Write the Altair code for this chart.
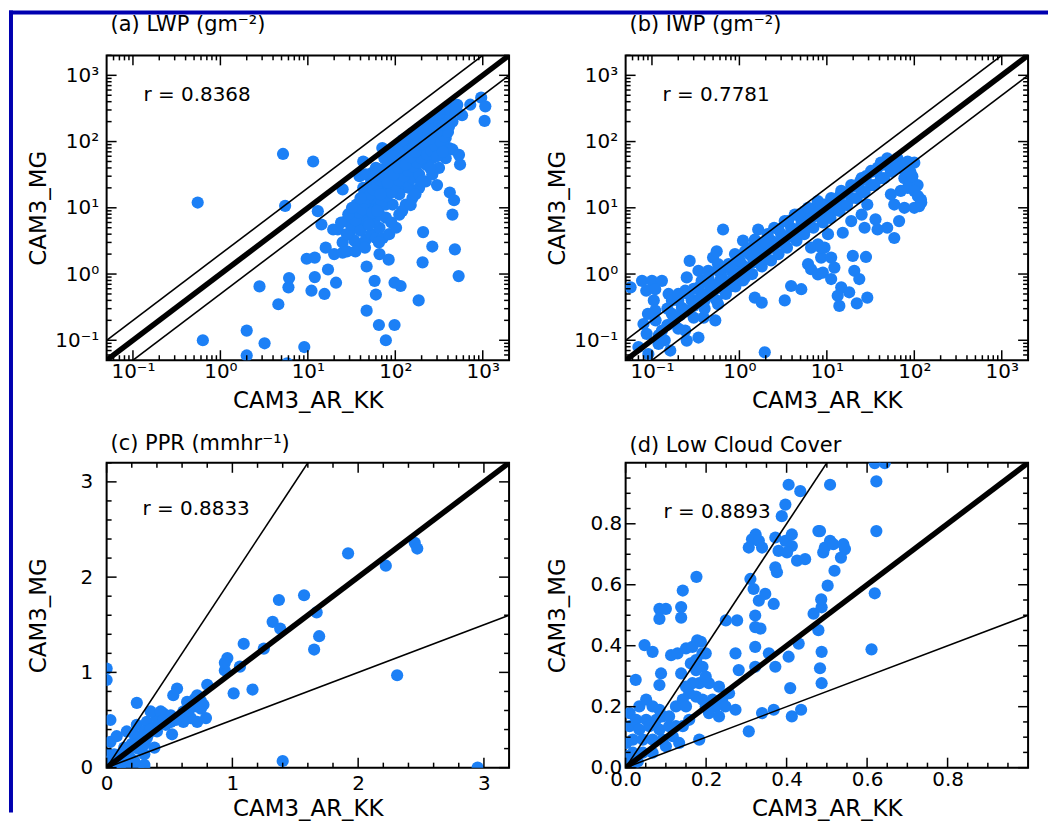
import altair as alt
import pandas as pd

FONT = "DejaVu Sans"
PT = "#1c80f6"
BG = "#0000b0"
W, H = 404, 306

# ---------------- data ----------------
# (a) LWP
lwp_x = [0.55, 0.63, 5.2, 5.5, 2.0, 2.0, 3.2, 2.8, 6.0, 6.1,
         4.6, 9.1, 9.7, 11, 5.8, 11.5, 12, 13, 14.3, 12,
         15.5, 17, 21, 16, 20, 25, 19.5, 25, 43, 39,
         47, 47, 58, 60, 66, 65, 78, 84, 98, 98,
         115, 185, 205, 208, 265, 300, 420, 470, 450, 480,
         530, 550, 535, 450, 580, 720, 960, 1070, 1050, 71,
         55, 22, 27.5, 33, 37, 41, 44, 49, 53, 60,
         69, 78, 89, 102, 116, 132, 151, 172, 196, 223,
         254, 290, 330, 377, 430, 468, 511, 394, 30, 34,
         39, 46, 53, 60, 72, 85, 102, 111, 132, 157,
         187, 223, 265, 316, 377, 265, 223, 187, 144, 121,
         93, 78, 66, 58, 51, 43, 37, 33, 72, 85,
         102, 121, 144, 172, 205, 243, 290, 345, 411, 377,
         316, 265, 172, 144, 111, 89, 75, 63, 55, 49,
         66, 78, 60, 75, 93, 111, 132, 157, 187, 223,
         265, 316, 46, 53, 85, 121, 43, 39, 36, 60,
         111, 132, 157, 187, 223, 265, 316, 377, 450, 411,
         345, 25, 28, 31, 35, 38, 42, 45, 48, 52,
         56, 62, 68, 74, 80, 88, 95, 105, 115, 125,
         140, 160, 180, 200, 240, 280, 320, 360, 400, 440,
         500, 40, 50, 55, 65, 70, 80, 90, 100, 110,
         125, 140, 160, 180, 200, 230, 260, 290, 330, 360,
         400, 62, 68, 82, 96, 108, 130, 150, 170, 195,
         215, 250, 300, 350, 420, 28, 35, 45, 65, 90,
         120, 150, 170, 200, 250, 300, 350, 24, 29, 32,
         40, 57, 66, 110, 95]
lwp_y = [12, 0.1, 65, 10.7, 0.14, 0.059, 0.09, 0.65, 0.63, 0.87,
         0.35, 0.079, 1.7, 0.56, 0.045, 50, 1.77, 8.9, 5.6, 0.9,
         0.5, 1.17, 0.74, 2.5, 2.0, 2.1, 4.7, 19, 50, 30,
         1.3, 0.28, 0.79, 0.49, 2.0, 0.17, 0.1, 1.65, 0.17, 0.74,
         0.66, 0.4, 1.5, 4.3, 2.6, 22, 17, 13, 7.9, 2.36,
         0.93, 45, 63, 76, 250, 360, 460, 340, 205, 80,
         34, 4.7, 6.3, 7.9, 10, 13.3, 16, 20, 25, 28,
         34, 40, 48, 56, 67, 80, 90, 107, 124, 142,
         163, 190, 220, 253, 291, 327, 358, 319, 4.0, 3.2,
         2.7, 3.3, 4.0, 3.5, 3.5, 4.0, 5.0, 7.9, 11.2, 14,
         20, 25, 32, 40, 56, 56, 80, 50, 32, 20,
         11.2, 7.1, 5.0, 6.3, 7.9, 6.3, 5.0, 5.0, 14, 20,
         28, 40, 50, 63, 80, 101, 124, 151, 169, 113,
         80, 142, 36, 20, 16, 25, 22, 18, 11.2, 11.2,
         7.9, 11.2, 40, 56, 75, 90, 113, 134, 160, 190,
         225, 270, 32, 18, 70, 105, 20, 7.9, 11.2, 13.3,
         36, 25, 28, 32, 45, 80, 124, 160, 200, 80,
         90, 3.0, 4.0, 5.5, 6.5, 8.5, 9.5, 12, 14, 16,
         19, 22, 26, 30, 34, 38, 44, 50, 58, 64,
         72, 80, 95, 110, 130, 160, 180, 210, 230, 270,
         300, 4.5, 5.5, 8.5, 10, 12, 15, 17, 22, 26,
         30, 36, 42, 48, 56, 64, 72, 85, 100, 120,
         140, 9, 16, 24, 32, 40, 45, 58, 70, 90,
         100, 110, 140, 180, 220, 2.2, 2.2, 2.5, 3.0, 6,
         9, 11, 16, 25, 40, 60, 70, 6, 8, 10,
         14, 30, 38, 70, 60]

# (b) IWP
iwp_x = [0.057, 0.077, 0.1, 0.13, 0.086, 0.109, 0.105, 0.109, 0.080, 0.087,
         0.070, 0.091, 0.119, 0.13, 0.162, 0.24, 0.25, 0.34, 1.95, 0.155,
         0.169, 0.25, 0.27, 0.34, 0.37, 0.24, 0.44, 0.50, 0.55, 0.57,
         0.68, 0.31, 0.42, 0.57, 0.39, 0.53, 0.65, 1.1, 1.5, 1.64,
         1.16, 0.89, 1.38, 1.95, 2.5, 3.3, 4.3, 5.6, 7.2, 9.4,
         1.5, 1.8, 3.3, 3.9, 5.1, 6.1, 6.6, 7.9, 8.6, 9.4,
         7.9, 6.6, 0.89, 0.75, 1.16, 0.169, 0.22, 0.285, 0.37, 0.48,
         0.63, 0.81, 1.06, 1.38, 1.8, 2.3, 3.0, 3.9, 5.1, 6.6,
         8.6, 0.20, 0.26, 0.34, 0.44, 0.57, 0.75, 0.97, 1.26, 1.64,
         2.1, 2.8, 3.6, 4.7, 6.1, 7.9, 0.24, 0.40, 0.68, 1.16,
         1.95, 3.3, 5.6, 9.4, 8.6, 11.2, 14.6, 19, 25, 32,
         41.5, 49, 64, 84, 100, 70, 54, 41.5, 32, 25,
         19, 14.6, 11.2, 8.6, 77, 91, 109, 119, 114, 100,
         77, 59, 54, 70, 84, 29, 25, 19, 15.2, 10.3,
         8.6, 11.2, 9.0, 12.2, 11.2, 19.8, 28, 20.6, 23.5, 14.6,
         18, 13.3, 13.9, 22, 29, 38, 49, 59, 67, 36,
         27, 0.12, 0.15, 0.18, 0.21, 0.25, 0.3, 0.35, 0.42, 0.5,
         0.6, 0.7, 0.85, 1.0, 1.2, 1.45, 1.7, 2.0, 2.4, 2.9,
         3.5, 4.2, 5.0, 6.0, 7.2, 8.5, 10, 12, 14, 17,
         20, 24, 28, 33, 38, 45, 55, 0.14, 0.2, 0.3,
         0.4, 0.55, 0.7, 0.9, 1.1, 1.4, 1.8, 2.3, 2.8, 3.5,
         4.5, 5.5, 7.0, 9, 11, 14, 17, 22, 27, 35,
         45, 55, 65, 80, 90, 95, 100, 110, 120, 0.09,
         0.11, 0.15, 0.2, 0.3, 0.45, 0.6, 0.8, 1.0, 1.3, 1.6,
         2.0]
iwp_y = [0.63, 0.79, 0.79, 0.79, 0.56, 0.59, 0.40, 0.28, 0.176, 0.125,
         0.079, 0.062, 0.088, 0.14, 0.070, 0.14, 0.099, 0.11, 0.066, 0.50,
         0.40, 0.89, 1.58, 1.12, 0.79, 0.56, 1.12, 1.77, 2.2, 1.41,
         1.25, 0.40, 0.50, 0.35, 0.22, 0.20, 4.7, 3.2, 3.3, 4.7,
         2.2, 2.0, 2.5, 2.8, 5.0, 6.3, 7.9, 8.9, 10, 11.2,
         0.44, 0.37, 0.40, 0.66, 0.59, 1.41, 1.18, 0.99, 1.77, 2.5,
         2.8, 2.5, 0.79, 0.63, 0.89, 0.25, 0.31, 0.40, 0.50, 0.70,
         0.89, 1.12, 1.41, 1.88, 2.5, 3.2, 4.0, 5.0, 6.7, 8.4,
         10.6, 0.40, 0.50, 0.63, 0.89, 1.12, 1.41, 1.77, 2.4, 3.0,
         4.0, 4.7, 6.3, 7.9, 10, 12.6, 0.28, 0.40, 0.63, 1.12,
         1.77, 2.8, 4.7, 7.1, 11.2, 14, 18, 22, 28, 36,
         48, 56, 56, 50, 48, 40, 36, 28, 22, 18,
         14, 11.2, 8.9, 7.1, 28, 25, 22, 13.3, 10.6, 10,
         10, 11.2, 16, 18, 20, 11.2, 7.9, 6.3, 4.2, 4.0,
         2.5, 1.77, 1.05, 1.25, 0.84, 1.88, 1.81, 1.12, 0.84, 0.63,
         0.53, 0.47, 0.33, 0.36, 0.44, 4.7, 5.0, 3.5, 6.3, 6.7,
         5.0, 0.12, 0.17, 0.2, 0.24, 0.28, 0.33, 0.4, 0.45, 0.55,
         0.62, 0.75, 0.9, 1.05, 1.25, 1.5, 1.8, 2.1, 2.5, 3.0,
         3.6, 4.3, 5.2, 6.2, 7.5, 9, 10.5, 12.5, 15, 17,
         21, 25, 30, 35, 40, 45, 50, 0.1, 0.15, 0.22,
         0.3, 0.4, 0.5, 0.65, 0.8, 1.0, 1.3, 1.6, 2.0, 2.5,
         3.2, 4.0, 5.0, 6.0, 7.0, 9, 11, 14, 17, 22,
         28, 35, 40, 45, 35, 30, 18, 15, 12, 0.25,
         0.2, 0.3, 0.5, 0.6, 0.7, 0.8, 1.3, 1.6, 2.0, 2.3,
         3.0]

# (c) PPR
ppr_x = [0.0, 0.0, 0.03, 0.03, 0.01, 0.24, 0.08, 0.16, 0.24, 0.32,
         0.40, 0.45, 0.53, 0.56, 0.64, 0.69, 0.75, 0.77, 0.80, 0.72,
         0.61, 0.67, 0.72, 0.79, 0.61, 0.56, 0.51, 0.47, 0.52, 0.38,
         0.30, 0.22, 0.30, 0.11, 0.19, 0.27, 0.32, 0.22, 0.14, 0.06,
         0.22, 0.30, 0.38, 0.35, 0.43, 0.51, 0.94, 0.96, 1.01, 1.09,
         1.16, 1.25, 1.32, 1.37, 1.38, 1.57, 1.40, 1.06, 0.94, 1.67,
         1.69, 1.65, 1.92, 2.22, 2.45, 2.47, 2.31, 2.95, 0.05, 0.10,
         0.12, 0.15, 0.18, 0.20, 0.25, 0.28, 0.30, 0.33, 0.35, 0.40,
         0.42, 0.45, 0.50, 0.55, 0.60, 0.65, 0.70, 0.75, 0.02, 0.04,
         0.08, 0.0, 0.05, 0.15, 0.25, 0.30]
ppr_y = [1.04, 0.92, 0.50, 0.27, 0.14, 0.68, 0.33, 0.38, 0.45, 0.48,
         0.52, 0.57, 0.76, 0.83, 0.69, 0.64, 0.62, 0.66, 0.87, 0.76,
         0.59, 0.52, 0.48, 0.52, 0.48, 0.52, 0.48, 0.45, 0.35, 0.21,
         0.14, 0.07, 0.03, 0.03, 0.10, 0.27, 0.31, 0.24, 0.21, 0.14,
         0.35, 0.38, 0.42, 0.59, 0.59, 0.55, 1.02, 1.15, 0.78, 1.30,
         0.82, 1.25, 1.53, 1.76, 1.46, 1.81, 0.07, 1.06, 1.10, 1.63,
         1.38, 1.24, 2.25, 2.12, 2.36, 2.30, 0.97, 0.0, 0.05, 0.10,
         0.15, 0.12, 0.20, 0.25, 0.20, 0.30, 0.25, 0.35, 0.40, 0.38,
         0.45, 0.50, 0.48, 0.50, 0.55, 0.60, 0.72, 0.70, 0.02, 0.08,
         0.05, 0.06, 0.0, 0.0, 0.0, 0.0]

# (d) Low cloud cover
lcc_x = [0.405, 0.434, 0.397, 0.388, 0.323, 0.314, 0.306, 0.331, 0.339, 0.372,
         0.397, 0.413, 0.413, 0.380, 0.401, 0.426, 0.446, 0.479, 0.491, 0.372,
         0.376, 0.310, 0.318, 0.331, 0.347, 0.368, 0.322, 0.322, 0.335, 0.322,
         0.273, 0.281, 0.322, 0.356, 0.372, 0.405, 0.430, 0.467, 0.487, 0.479,
         0.487, 0.483, 0.487, 0.409, 0.368, 0.413, 0.339, 0.436, 0.306, 0.249,
         0.277, 0.176, 0.142, 0.138, 0.138, 0.084, 0.100, 0.084, 0.047, 0.067,
         0.113, 0.129, 0.150, 0.166, 0.178, 0.187, 0.199, 0.088, 0.084, 0.025,
         0.138, 0.162, 0.175, 0.191, 0.183, 0.207, 0.232, 0.257, 0.273, 0.175,
         0.158, 0.142, 0.125, 0.150, 0.191, 0.216, 0.183, 0.010, 0.034, 0.051,
         0.067, 0.084, 0.026, 0.051, 0.076, 0.092, 0.108, 0.010, 0.034, 0.059,
         0.084, 0.108, 0.125, 0.018, 0.043, 0.067, 0.092, 0.018, 0.043, 0.006,
         0.117, 0.142, 0.158, 0.002, 0.067, 0.100, 0.133, 0.199, 0.224, 0.240,
         0.248, 0.207, 0.232, 0.166, 0.150, 0.199, 0.175, 0.191, 0.619, 0.644,
         0.623, 0.508, 0.623, 0.483, 0.508, 0.495, 0.516, 0.541, 0.545, 0.535,
         0.519, 0.502, 0.486, 0.619, 0.611, 0.010, 0.030]
lcc_y = [0.928, 0.907, 0.863, 0.825, 0.765, 0.749, 0.722, 0.744, 0.722, 0.755,
         0.744, 0.765, 0.727, 0.711, 0.706, 0.679, 0.684, 0.776, 0.706, 0.657,
         0.641, 0.619, 0.586, 0.548, 0.570, 0.537, 0.499, 0.461, 0.456, 0.396,
         0.375, 0.320, 0.331, 0.375, 0.331, 0.364, 0.407, 0.505, 0.526, 0.451,
         0.380, 0.326, 0.277, 0.261, 0.190, 0.168, 0.179, 0.190, 0.119, 0.483,
         0.483, 0.626, 0.581, 0.527, 0.492, 0.521, 0.521, 0.488, 0.402, 0.380,
         0.369, 0.375, 0.391, 0.396, 0.418, 0.413, 0.375, 0.309, 0.271, 0.288,
         0.309, 0.342, 0.320, 0.331, 0.277, 0.277, 0.266, 0.244, 0.190, 0.233,
         0.244, 0.223, 0.201, 0.201, 0.223, 0.223, 0.092, 0.179, 0.201, 0.223,
         0.201, 0.190, 0.157, 0.157, 0.157, 0.168, 0.168, 0.136, 0.125, 0.136,
         0.125, 0.136, 0.136, 0.092, 0.092, 0.092, 0.092, 0.049, 0.049, 0.038,
         0.103, 0.136, 0.157, 0.081, 0.049, 0.070, 0.081, 0.201, 0.201, 0.223,
         0.201, 0.179, 0.168, 0.277, 0.266, 0.299, 0.353, 0.375, 0.999, 0.999,
         0.939, 0.928, 0.776, 0.776, 0.744, 0.722, 0.733, 0.733, 0.717, 0.689,
         0.646, 0.597, 0.552, 0.572, 0.388, 0.010, 0.020]

# reference lines (1:1, 2:1, 1:2)
log_line_x = [0.05, 2000]
log_line_one = [0.05, 2000]
log_line_two = [0.1, 4000]
log_line_half = [0.025, 1000]
ppr_line_x = [0, 3.2]
ppr_line_one = [0, 3.2]
ppr_line_two = [0, 6.4]
ppr_line_half = [0, 1.6]
lcc_line_x = [0, 1]
lcc_line_one = [0, 1]
lcc_line_two = [0, 2]
lcc_line_half = [0, 0.5]

# tick values
log_major = [0.1, 1, 10, 100, 1000]
log_minor = [0.06, 0.07, 0.08, 0.09,
             0.2, 0.3, 0.4, 0.5, 0.6, 0.7, 0.8, 0.9,
             2, 3, 4, 5, 6, 7, 8, 9,
             20, 30, 40, 50, 60, 70, 80, 90,
             200, 300, 400, 500, 600, 700, 800, 900, 2000]
ppr_major = [0, 1, 2, 3]
ppr_minor = [0.2, 0.4, 0.6, 0.8, 1.2, 1.4, 1.6, 1.8, 2.2, 2.4, 2.6, 2.8, 3.2]
lcc_major = [0.0, 0.2, 0.4, 0.6, 0.8]
lcc_minor = [0.05, 0.1, 0.15, 0.25, 0.3, 0.35, 0.45, 0.5, 0.55, 0.65, 0.7,
             0.75, 0.85, 0.9, 0.95]

titles = ["(a) LWP (gm\u207b\u00b2)", "(b) IWP (gm\u207b\u00b2)",
          "(c) PPR (mmhr\u207b\u00b9)", "(d) Low Cloud Cover"]
r_texts = ["r = 0.8368", "r = 0.7781", "r = 0.8833", "r = 0.8893"]
r_x = [0.132, 0.132, 0.286, 0.094]
r_y = [509, 509, 2.72, 0.837]

LOG_LABELS = ("datum.value < 0.5 ? '10\u207b\u00b9' : datum.value < 5 ? '10\u2070' : "
              "datum.value < 50 ? '10\u00b9' : datum.value < 500 ? '10\u00b2' : '10\u00b3'")


def make_panel(px, py, title, title_y, scale, major, minor, lx, l1, l2, lh,
               rtext, rx, ry, label_size, xpad, ypad, xtitle_y,
               fmt=None, label_expr=None, strips=False):
    common = dict(grid=False, domain=False, ticks=False, tickSize=0,
                  labelFont=FONT, labelFontSize=label_size, labelColor="black",
                  titleFont=FONT, titleFontSize=23, titleFontWeight="normal",
                  titleColor="black", labelFlush=False, labelOverlap=False,
                  values=major)
    if fmt:
        common["format"] = fmt
    if label_expr:
        common["labelExpr"] = label_expr
    xaxis = alt.Axis(title="CAM3_AR_KK", labelPadding=xpad, titleY=xtitle_y,
                     titleBaseline="alphabetic", **common)
    yaxis = alt.Axis(title="CAM3_MG", labelPadding=ypad, titleX=-68, titleY=H / 2,
                     titleAngle=270, titleAlign="center", titleBaseline="middle",
                     **common)

    def X(f):
        return alt.X(f, type="quantitative", scale=scale, axis=xaxis)

    def Y(f):
        return alt.Y(f, type="quantitative", scale=scale, axis=yaxis)

    pts = alt.Chart(pd.DataFrame({"x": px, "y": py})).mark_circle(
        size=150, opacity=1, color=PT, clip=True).encode(x=X("x"), y=Y("y"))

    ldf = pd.DataFrame({
        "x": lx + lx + lx,
        "y": l1 + l2 + lh,
        "k": ["one"] * len(lx) + ["two"] * len(lx) + ["half"] * len(lx),
    })
    thin = alt.Chart(ldf).transform_filter("datum.k != 'one'").mark_line(
        clip=True, color="black", strokeWidth=1.6).encode(
        x=X("x"), y=Y("y"), detail="k:N")
    thick = alt.Chart(ldf).transform_filter("datum.k == 'one'").mark_line(
        clip=True, color="black", strokeWidth=5.5).encode(x=X("x"), y=Y("y"))

    txt = alt.Chart(pd.DataFrame({"x": [rx], "y": [ry], "t": [rtext]})).mark_text(
        align="left", baseline="middle", font=FONT, fontSize=20, color="black").encode(
        x=X("x"), y=Y("y"), text="t:N")

    ttl = alt.Chart(pd.DataFrame({"t": [title]})).mark_text(
        align="left", baseline="alphabetic", font=FONT, fontSize=21, color="black").encode(
        x=alt.value(4), y=alt.value(title_y), text="t:N")

    layers = [pts, thin, thick, txt, ttl]
    for vals, ln in ((major, 10), (minor, 5)):
        d = pd.DataFrame({"v": vals})
        rule = alt.Chart(d).mark_rule(color="black", strokeWidth=1.5)
        layers.append(rule.encode(x=X("v"), y=alt.value(H), y2=alt.value(H - ln)))
        layers.append(rule.encode(x=X("v"), y=alt.value(0), y2=alt.value(ln)))
        layers.append(rule.encode(y=Y("v"), x=alt.value(0), x2=alt.value(ln)))
        layers.append(rule.encode(y=Y("v"), x=alt.value(W), x2=alt.value(W - ln)))

    if strips:
        one = pd.DataFrame({"a": [0]})
        layers.append(alt.Chart(one).mark_rect(color=BG).encode(
            x=alt.value(-98), x2=alt.value(945), y=alt.value(-45), y2=alt.value(-41)))
        layers.append(alt.Chart(one).mark_rect(color=BG).encode(
            x=alt.value(-98), x2=alt.value(-94), y=alt.value(-45), y2=alt.value(760)))

    return alt.layer(*layers).properties(width=W, height=H)


log_scale = alt.Scale(type="log", domain=[0.05, 2000], nice=False)
ppr_scale = alt.Scale(domain=[0, 3.2], nice=False, zero=False)
lcc_scale = alt.Scale(domain=[0, 1], nice=False, zero=False)

pa = make_panel(lwp_x, lwp_y, titles[0], -24, log_scale, log_major, log_minor,
                log_line_x, log_line_one, log_line_two, log_line_half,
                r_texts[0], r_x[0], r_y[0], 20, 1, 8, 47,
                label_expr=LOG_LABELS, strips=True)
pb = make_panel(iwp_x, iwp_y, titles[1], -24, log_scale, log_major, log_minor,
                log_line_x, log_line_one, log_line_two, log_line_half,
                r_texts[1], r_x[1], r_y[1], 20, 1, 8, 47, label_expr=LOG_LABELS)
pc = make_panel(ppr_x, ppr_y, titles[2], -13, ppr_scale, ppr_major, ppr_minor,
                ppr_line_x, ppr_line_one, ppr_line_two, ppr_line_half,
                r_texts[2], r_x[2], r_y[2], 20, 6, 14, 48)
pd_ = make_panel(lcc_x, lcc_y, titles[3], -11, lcc_scale, lcc_major, lcc_minor,
                 lcc_line_x, lcc_line_one, lcc_line_two, lcc_line_half,
                 r_texts[3], r_x[3], r_y[3], 20, 2, 4, 48, fmt=".1f")

chart = alt.concat(pa, pb, pc, pd_, columns=2, spacing={"row": 103, "column": 117},
                   bounds="flush").properties(
    padding=0, background="white"
).configure_view(stroke="black", strokeWidth=2)

chart.save("out.html", embed_options={"renderer": "svg", "actions": False})
